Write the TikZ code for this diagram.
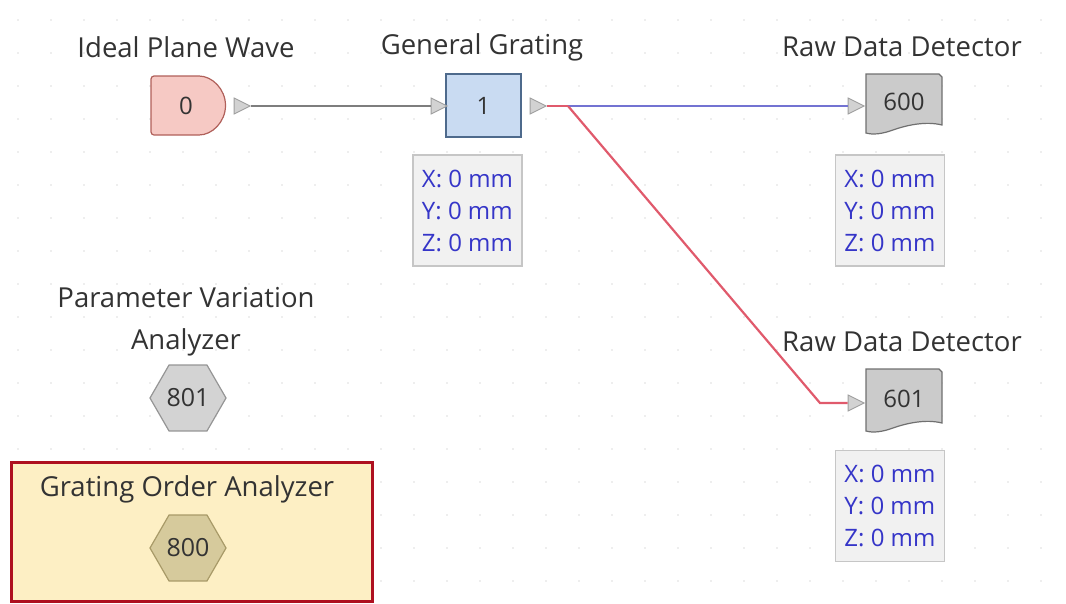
\documentclass[tikz,border=0pt]{standalone}
\usepackage{fontspec}
\setmainfont{Open Sans}
\usetikzlibrary{shapes.geometric}
\definecolor{srcfill}{HTML}{F6C9C4}
\definecolor{srcline}{HTML}{B0605A}
\definecolor{grfill}{HTML}{C9DBF2}
\definecolor{grline}{HTML}{4E6A8C}
\definecolor{detfill}{HTML}{CBCBCB}
\definecolor{detline}{HTML}{707070}
\definecolor{infofill}{HTML}{F1F1F1}
\definecolor{infoline}{HTML}{C6C6C6}
\definecolor{infotext}{HTML}{3535C8}
\definecolor{hexfill}{HTML}{D3D3D3}
\definecolor{hexline}{HTML}{959595}
\definecolor{selfill}{HTML}{FDEFC4}
\definecolor{selline}{HTML}{AE1020}
\definecolor{ghexfill}{HTML}{D6CA9C}
\definecolor{ghexline}{HTML}{A89A68}
\definecolor{wiregray}{HTML}{7E7E7E}
\definecolor{wireblue}{HTML}{7373D2}
\definecolor{wirered}{HTML}{E05A6C}
\definecolor{labeltext}{HTML}{333333}
\tikzset{
  lbl/.style={font=\fontsize{27.5}{32}\selectfont, text=labeltext, inner sep=0pt},
  idtext/.style={font=\fontsize{24}{28}\selectfont, text=black!80, inner sep=0pt},
  info/.style={draw=infoline, fill=infofill, line width=1.2pt, minimum width=109pt, minimum height=111pt,
    inner sep=0pt, font=\fontsize{24}{32}\selectfont, text=infotext, align=left},
  port/.style={isosceles triangle, isosceles triangle stretches, draw=gray!75, fill=gray!35,
    line width=0.9pt, minimum height=16pt, inner sep=0pt, minimum width=16pt},
  hexa/.style={regular polygon, regular polygon sides=6, shape border rotate=0, minimum width=76pt,
    inner sep=0pt, line width=1.2pt, font=\fontsize{25}{28}\selectfont},
  wire/.style={line width=2.2pt}
}
\begin{document}
\begin{tikzpicture}[x=1pt,y=-1pt]
\useasboundingbox (0,0) rectangle (1066,603);
% dotted canvas grid
\foreach \gx in {18,51,...,1066}
  \foreach \gy in {20,53,...,603}
    \fill[gray!18] (\gx,\gy) circle (1.1pt);

% selection area behind the grating order analyzer
\draw[selline, line width=3pt, fill=selfill] (11,462) rectangle (372,601);

% source: ideal plane wave
\node[lbl] (srclbl) at (186,47) {Ideal Plane Wave};
\draw[srcline, fill=srcfill, line width=1.2pt, rounded corners=3pt]
  (175,76) -- (151,76) -- (151,135) -- (196,135)
  arc[start angle=90, end angle=-90, radius=29.5] -- cycle;
\node[idtext] (src) at (186,105.5) {0};
\node[port] (srcout) at (239,106) {};

% general grating
\node[lbl] (grlbl) at (482,47) {General Grating};
\node[draw=grline, fill=grfill, line width=1.4pt, minimum width=75pt, minimum height=63pt,
  inner sep=0pt, idtext] (grating) at (483.5,105.5) {1};
\node[port] (grin) at (436,106) {};
\node[port] (grout) at (535,106) {};
\node[info] (grinfo) at (467.5,210.5) {X: 0 mm\\Y: 0 mm\\Z: 0 mm};

% raw data detectors
\node[lbl] (d0lbl) at (902,47) {Raw Data Detector};
\draw[detline, fill=detfill, line width=1.2pt]
  (866,74) -- (939,74) -- (942,77) -- (942,125)
  .. controls (926,121) and (907,125) .. (893,130)
  .. controls (882,134) and (873,135) .. (866,133) -- cycle;
\node[idtext] (det0) at (904,102) {600};
\node[port] (d0in) at (853,106) {};
\node[info] (d0info) at (890,210.5) {X: 0 mm\\Y: 0 mm\\Z: 0 mm};

\node[lbl] (d1lbl) at (902,342) {Raw Data Detector};
\draw[detline, fill=detfill, line width=1.2pt]
  (866,369) -- (939,369) -- (942,372) -- (942,423)
  .. controls (926,419) and (907,423) .. (893,428)
  .. controls (882,432) and (873,433) .. (866,431) -- cycle;
\node[idtext] (det1) at (904,399) {601};
\node[port] (d1in) at (853,403) {};
\node[info] (d1info) at (890,506) {X: 0 mm\\Y: 0 mm\\Z: 0 mm};

% analyzers
\node[lbl, align=center, font=\fontsize{27.5}{42}\selectfont] (pvlbl) at (186,322) {Parameter Variation\\Analyzer};
\node[hexa, draw=hexline, fill=hexfill, text=black!80] (pva) at (188,398) {801};

\node[lbl] (golbl) at (187,489) {Grating Order Analyzer};
\node[hexa, draw=ghexline, fill=ghexfill, text=black!80] (goa) at (188,548) {800};

% connections
\coordinate (split) at (568,106);
\coordinate (bend) at (820,403);
\draw[wire, wiregray] (srcout.apex) -- (grin.west);
\draw[wire, wirered] (grout.apex) -- (split);
\draw[wire, wireblue] (split) -- (d0in.west);
\draw[wire, wirered] (split) -- (bend) -- (d1in.west);
\end{tikzpicture}
\end{document}
